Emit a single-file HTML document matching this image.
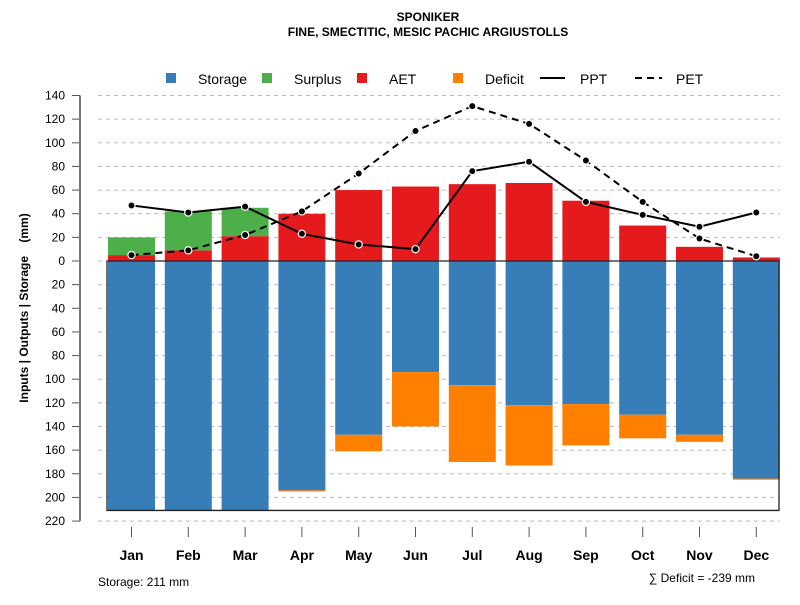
<!DOCTYPE html>
<html><head><meta charset="utf-8"><style>
body{margin:0;background:#fff;}
svg text{font-family:"Liberation Sans",Arial,sans-serif;}
</style></head><body>
<svg id="chart" width="800" height="600" xmlns="http://www.w3.org/2000/svg">
<text x="428" y="21" text-anchor="middle" font-size="12" font-weight="bold">SPONIKER</text>
<text x="428" y="36" text-anchor="middle" font-size="12" font-weight="bold">FINE, SMECTITIC, MESIC PACHIC ARGIUSTOLLS</text>
<g font-size="14">
<rect x="166" y="73" width="10" height="10" fill="#377eb8"/>
<text x="198" y="84">Storage</text>
<rect x="262" y="73" width="10" height="10" fill="#4daf4a"/>
<text x="294" y="84">Surplus</text>
<rect x="357" y="73" width="10" height="10" fill="#e41a1c"/>
<text x="389" y="84">AET</text>
<rect x="453" y="73" width="10" height="10" fill="#ff7f00"/>
<text x="485" y="84">Deficit</text>
<line x1="540" y1="78" x2="565" y2="78" stroke="#000" stroke-width="2"/>
<text x="580" y="84">PPT</text>
<line x1="635" y1="78" x2="662" y2="78" stroke="#000" stroke-width="2" stroke-dasharray="7,5"/>
<text x="676" y="84">PET</text>
</g>
<g id="plot"></g>
<text transform="translate(28,308) rotate(-90)" text-anchor="middle" font-size="12" font-weight="bold" style="white-space:pre" xml:space="preserve">Inputs | Outputs | Storage    (mm)</text>
<text x="98" y="586" font-size="12">Storage: 211 mm</text>
<text x="755" y="582" text-anchor="end" font-size="12">∑ Deficit = -239 mm</text>
</svg>
<script>
const months=["Jan","Feb","Mar","Apr","May","Jun","Jul","Aug","Sep","Oct","Nov","Dec"];
const storage=[211,211,211,194,147,94,105,122,121,130,147,184];
const deficit=[0,0,0,1,14,46,65,51,35,20,6,1];
const aet=[5,9,21,40,60,63,65,66,51,30,12,3];
const surplus=[15,33,24,0,0,0,0,0,0,0,0,0];
const ppt=[47,41,46,23,14,10,76,84,50,39,29,41];
const pet=[5,9,22,42,74,110,131,116,85,50,19,4];
const yTicks=[140,120,100,80,60,40,20,0,20,40,60,80,100,120,140,160,180,200,220];
const yTickVals=[140,120,100,80,60,40,20,0,-20,-40,-60,-80,-100,-120,-140,-160,-180,-200,-220];

const NS="http://www.w3.org/2000/svg";
const g=document.getElementById('plot');
const y=v=>261-v*(165.5/140);
const x=i=>131.5+i*56.8;
const bw=47;
function mk(tag,attrs){const e=document.createElementNS(NS,tag);for(const k in attrs)e.setAttribute(k,attrs[k]);g.appendChild(e);return e;}
yTickVals.forEach((v,i)=>{
  const gl=mk('line',{x1:98,x2:780,y1:y(v),y2:y(v),stroke:'#bbb','stroke-dasharray':'4,4'});
  
  
  const t=mk('line',{x1:72,x2:80,y1:y(v),y2:y(v),stroke:'#555'});
  
  
  const tx=mk('text',{x:65,y:y(v)+4,'text-anchor':'end','font-size':12});
  tx.textContent=yTicks[i];
  
  
});
const ax=mk('line',{x1:80,x2:80,y1:y(140),y2:y(-220),stroke:'#777','stroke-width':2});


months.forEach((m,i)=>{
  const cx=x(i),l=cx-bw/2;
  const s=mk('rect',{x:l,y:y(0),width:bw,height:y(-storage[i])-y(0),fill:'#377eb8'});
  
  
  if(deficit[i]>0){const d=mk('rect',{x:l,y:y(-storage[i]),width:bw,height:y(-storage[i]-deficit[i])-y(-storage[i]),fill:'#ff7f00'});
  
  }
  const a=mk('rect',{x:l,y:y(aet[i]),width:bw,height:y(0)-y(aet[i]),fill:'#e41a1c'});
  
  
  if(surplus[i]>0){const su=mk('rect',{x:l,y:y(aet[i]+surplus[i]),width:bw,height:y(aet[i])-y(aet[i]+surplus[i]),fill:'#4daf4a'});
  
  }
  const tk=mk('line',{x1:cx,x2:cx,y1:527,y2:537,stroke:'#555'});
  
  
  const lb=mk('text',{x:cx,y:560,'text-anchor':'middle','font-size':14,'font-weight':'bold'});
  lb.textContent=m;
  
  
});
const fr=mk('path',{d:`M107,${y(0)} H779 V${y(-211)} H107 Z`,fill:'none',stroke:'#222','stroke-width':1.3});


function series(vals,dash,name){
  const p=mk('polyline',{points:vals.map((v,i)=>x(i)+','+y(v)).join(' '),fill:'none',stroke:'#000','stroke-width':2,'stroke-dasharray':dash});
  
  
  vals.forEach((v,i)=>{const c=mk('circle',{cx:x(i),cy:y(v),r:3.6,fill:'#000',stroke:'#fff','stroke-width':1.2});
  
  });
}
series(pet,'7,5','pet');
series(ppt,'none','ppt');
</script>
</body></html>
